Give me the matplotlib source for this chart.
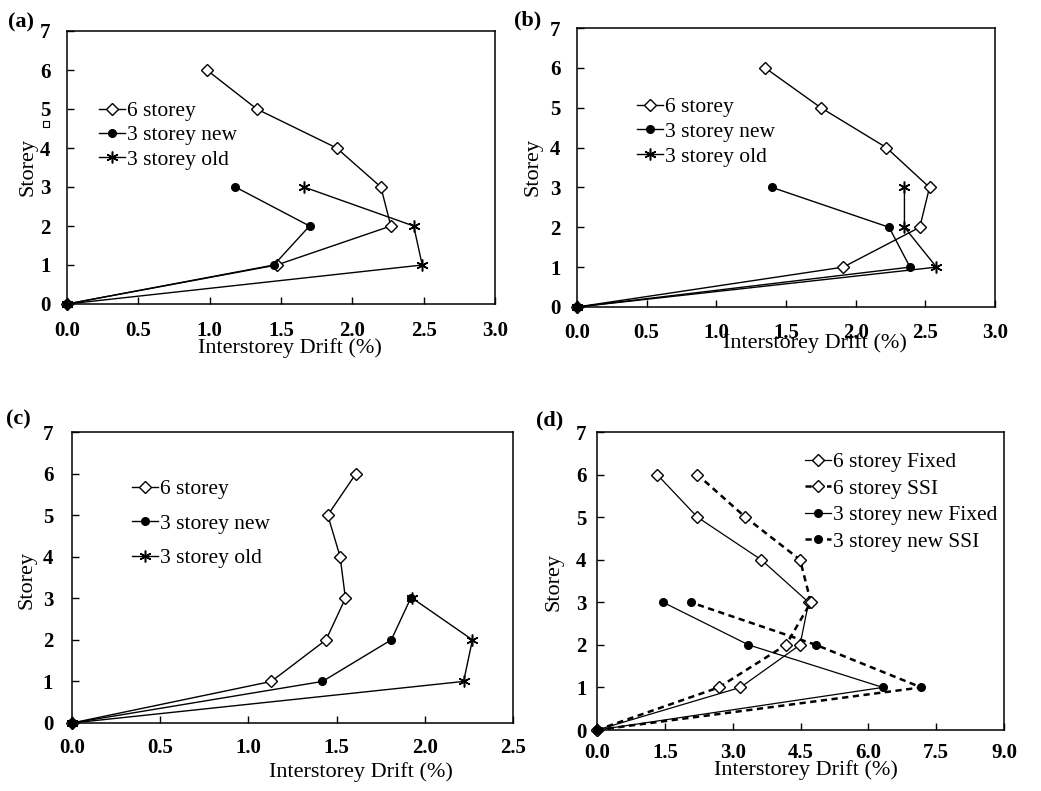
import matplotlib
matplotlib.use("Agg")
import matplotlib.pyplot as plt
from matplotlib.patches import Rectangle

plt.rcParams['font.family'] = ['Liberation Serif', 'DejaVu Serif']

# Storey levels
storeys_6 = [0, 1, 2, 3, 4, 5, 6]
storeys_3 = [0, 1, 2, 3]

# (a) interstorey drift (%) per storey
a_six = [0, 1.47, 2.27, 2.20, 1.89, 1.33, 0.98]
a_new = [0, 1.45, 1.70, 1.18]
a_old = [0, 2.49, 2.43, 1.66]

# (b)
b_six = [0, 1.91, 2.46, 2.53, 2.22, 1.75, 1.35]
b_new = [0, 2.39, 2.24, 1.40]
b_old = [0, 2.58, 2.35, 2.35]

# (c)
c_six = [0, 1.13, 1.44, 1.55, 1.52, 1.45, 1.61]
c_new = [0, 1.42, 1.81, 1.92]
c_old = [0, 2.22, 2.27, 1.93]

# (d) fixed base vs soil-structure interaction
d_six_fixed = [0, 3.17, 4.49, 4.68, 3.63, 2.22, 1.33]
d_six_ssi = [0, 2.69, 4.18, 4.73, 4.49, 3.28, 2.22]
d_new_fixed = [0, 6.32, 3.35, 1.46]
d_new_ssi = [0, 7.17, 4.84, 2.07]

labels_abc = ['6 storey', '3 storey new', '3 storey old']
labels_d = ['6 storey Fixed', '6 storey SSI', '3 storey new Fixed', '3 storey new SSI']

x_ticks_ab = [0.0, 0.5, 1.0, 1.5, 2.0, 2.5, 3.0]
x_ticks_c = [0.0, 0.5, 1.0, 1.5, 2.0, 2.5]
x_ticks_d = [0.0, 1.5, 3.0, 4.5, 6.0, 7.5, 9.0]
y_ticks = [0, 1, 2, 3, 4, 5, 6, 7]

W, H = 1041, 791
fig = plt.figure(figsize=(W / 100, H / 100), dpi=100)


def px_axes(l, t, r, b):
    return fig.add_axes([l / W, 1 - b / H, (r - l) / W, (b - t) / H])


def px_fig(x, y):
    return (x / W, 1 - y / H)


DIAMOND = dict(marker='D', markersize=6.5, markerfacecolor='white',
               markeredgecolor='black', markeredgewidth=1.0)
DOT = dict(marker='o', markersize=5.5, markerfacecolor='black',
           markeredgecolor='black')
STAR = dict(marker=(6, 2, 0), markersize=8.5, markeredgewidth=1.1,
            color='black')

TICK_SIZE = 15
LEGEND_SIZE = 15.5
LABEL_SIZE = 16


def style(ax, xticks, xpad, ypad, xlab_xy, ylab_xy):
    ax.set_xlim(xticks[0], xticks[-1])
    ax.set_ylim(0, 7)
    ax.set_xticks(xticks)
    ax.set_xticklabels([f'{t:.1f}' for t in xticks])
    ax.set_yticks(y_ticks)
    for s in ax.spines.values():
        s.set_linewidth(1.1)
    ax.tick_params(axis='x', direction='in', length=5, width=1.0, pad=xpad,
                   labelsize=TICK_SIZE)
    ax.tick_params(axis='y', direction='in', length=5, width=1.0, pad=ypad,
                   labelsize=TICK_SIZE)
    for lab in ax.get_xticklabels() + ax.get_yticklabels():
        lab.set_fontweight('bold')
    ax.set_xlabel('Interstorey Drift (%)', fontsize=LABEL_SIZE)
    ax.set_ylabel('Storey', fontsize=LABEL_SIZE)
    ax.xaxis.set_label_coords(*xlab_xy)
    ax.yaxis.set_label_coords(*ylab_xy)


def three_series(ax, six, new, old, lw=1.0):
    ax.plot(six, storeys_6, color='black', lw=lw, clip_on=False,
            label=labels_abc[0], **DIAMOND)
    ax.plot(new, storeys_3, color='black', lw=lw, clip_on=False,
            label=labels_abc[1], **DOT)
    ax.plot(old, storeys_3, lw=lw, clip_on=False, label=labels_abc[2], **STAR)


def place_legend(ax, left, top, spacing):
    ax.legend(loc='upper left', bbox_to_anchor=px_fig(left, top),
              bbox_transform=fig.transFigure, frameon=False,
              fontsize=LEGEND_SIZE, handlelength=1.2, handletextpad=0.12,
              borderpad=0, borderaxespad=0, labelspacing=spacing)


def panel_tag(x, y, text):
    fig.text(*px_fig(x, y), text, fontsize=16, fontweight='bold',
             va='center', ha='left')


# (a)
ax_a = px_axes(67, 31, 495, 304)
three_series(ax_a, a_six, a_new, a_old)
style(ax_a, x_ticks_ab, 12.5, 12, (0.521, -0.126), (-0.07, 0.5))
place_legend(ax_a, 99, 101, 0.2)
panel_tag(8, 22, '(a)')
fig.patches.append(Rectangle(px_fig(43, 127), 6 / W, 6 / H, fill=False,
                             lw=0.8, edgecolor='black',
                             transform=fig.transFigure, figure=fig))

# (b)
ax_b = px_axes(577, 28, 995, 307)
three_series(ax_b, b_six, b_new, b_old)
style(ax_b, x_ticks_ab, 11.5, 12, (0.569, -0.095), (-0.082, 0.502))
place_legend(ax_b, 637, 97, 0.22)
panel_tag(514, 20, '(b)')

# (c)
ax_c = px_axes(72, 432, 513, 723)
three_series(ax_c, c_six, c_new, c_old)
style(ax_c, x_ticks_c, 11, 13.5, (0.655, -0.135), (-0.08, 0.49))
place_legend(ax_c, 132, 479, 0.68)
panel_tag(6, 419, '(c)')

# (d)
ax_d = px_axes(597, 432, 1004, 730)
ax_d.plot(d_six_fixed, storeys_6, color='black', lw=0.9, clip_on=False,
          label=labels_d[0], **DIAMOND)
ax_d.plot(d_six_ssi, storeys_6, color='black', lw=1.8, ls=(0, (2.5, 1.8)),
          clip_on=False, label=labels_d[1], **DIAMOND)
ax_d.plot(d_new_fixed, storeys_3, color='black', lw=0.9, clip_on=False,
          label=labels_d[2], **DOT)
ax_d.plot(d_new_ssi, storeys_3, color='black', lw=1.8, ls=(0, (2.5, 1.8)),
          clip_on=False, label=labels_d[3], **DOT)
style(ax_d, x_ticks_d, 9, 7.5, (0.513, -0.102), (-0.082, 0.497))
place_legend(ax_d, 805, 452, 0.3)
panel_tag(536, 420, '(d)')

fig.savefig('out.png', dpi=100)
